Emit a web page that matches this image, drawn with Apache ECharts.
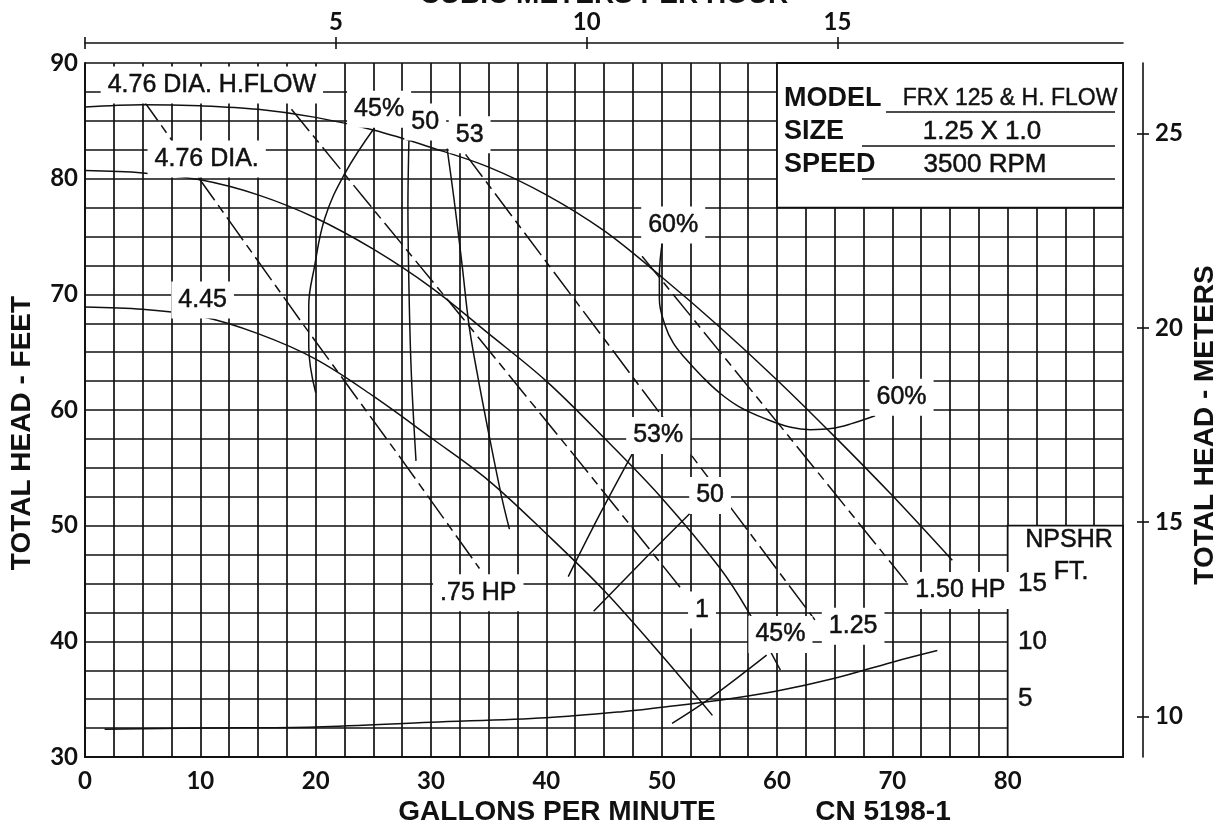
<!DOCTYPE html>
<html>
<head>
<meta charset="utf-8">
<script src="https://cdn.jsdelivr.net/npm/echarts@6/dist/echarts.min.js"></script>
<style>
html,body{margin:0;padding:0;background:#fff;}
#c{width:1225px;height:832px;}
</style>
</head>
<body>
<div id="c"></div>
<script>
// ---------------- DATA ----------------
const gpmTicks = [0, 10, 20, 30, 40, 50, 60, 70, 80];
const headTicks = [30, 40, 50, 60, 70, 80, 90];
const cmhTicks = [5, 10, 15];
const meterTicks = [10, 15, 20, 25];
const npshrTicks = [5, 10, 15];

// head-capacity curves (GPM, feet)
const hflowGpm  = [0, 5, 10, 15, 20, 25, 30, 35, 40, 45, 50, 55, 60, 65, 70, 75.2];
const hflowHead = [86.2, 86.4, 86.3, 86.0, 85.3, 84.2, 82.7, 81.0, 78.6, 75.5, 71.5, 67.2, 62.6, 57.7, 52.6, 47.0];
const dia476Gpm  = [0, 5, 10, 15, 20, 25, 30, 35, 40, 45, 50, 55, 57.5, 60.3];
const dia476Head = [80.7, 80.5, 79.9, 78.6, 76.6, 73.9, 70.6, 66.6, 62.5, 57.6, 52.4, 46.4, 42.6, 37.5];
const dia445Gpm  = [0, 5, 10, 15, 20, 25, 30, 35, 40, 45, 50, 54.4];
const dia445Head = [68.9, 68.7, 68.1, 66.6, 64.4, 61.2, 57.6, 53.9, 49.3, 44.4, 38.8, 33.6];

// NPSHR curve (GPM, feet NPSHR)
const npshrGpm = [1.7, 10, 20, 30, 40, 46.4, 50, 55, 60, 65, 70, 73.9];
const npshrFt  = [2.4, 2.5, 2.6, 3.0, 3.4, 3.9, 4.3, 4.9, 5.7, 6.8, 8.2, 9.2];

// efficiency curves
const eff45aGpm  = [25.1, 22.5, 20.8, 19.9, 19.4, 19.4, 20.0];
const eff45aHead = [84.4, 80.4, 76.6, 72.4, 69.0, 65.5, 61.5];
const eff45bGpm  = [59.1, 54.1, 50.9];
const eff45bHead = [38.8, 35.0, 32.9];
const eff50aGpm  = [28.1, 28.0, 28.1, 28.3, 28.7];
const eff50aHead = [83.9, 77.5, 70.0, 63.0, 55.6];
const eff50bGpm  = [52.6, 48.9, 44.1];
const eff50bHead = [51.2, 47.5, 42.6];
const eff53aGpm  = [31.4, 32.0, 32.7, 33.3, 34.0, 34.9, 36.1, 36.8];
const eff53aHead = [82.6, 78.2, 72.5, 67.3, 63.2, 58.5, 52.6, 49.7];
const eff53bGpm  = [47.5, 44.7, 41.9];
const eff53bHead = [56.3, 51.1, 45.6];
const eff60Gpm  = [50.1, 49.8, 49.8, 50.3, 51.0, 52.1, 53.5, 55.0, 56.7, 59.1, 61.2, 62.9, 64.7, 66.4, 68.5];
const eff60Head = [74.8, 71.6, 69.6, 67.3, 65.8, 64.4, 62.9, 61.5, 60.3, 59.2, 58.5, 58.3, 58.4, 58.8, 59.5];

// horsepower lines
const hp075Gpm  = [4.9, 18.7, 27.4, 34.2];
const hp075Head = [87.0, 67.7, 55.8, 46.3];
const hp100Gpm  = [17.9, 24.3, 32.7, 42.4, 51.9];
const hp100Head = [86.0, 78.2, 68.0, 56.1, 44.3];
const hp125Gpm  = [33.0, 46.4, 63.4];
const hp125Head = [82.1, 64.3, 41.7];
const hp150Gpm  = [48.3, 61.2, 71.4];
const hp150Head = [73.3, 57.5, 44.9];

// curve labels: text, GPM, feet
const labelText = ['4.76 DIA. H.FLOW', '4.76 DIA.', '4.45', '45%', '50', '53', '60%', '60%', '53%', '50', '.75 HP', '1', '1.25', '45%', '1.50 HP'];
const labelGpm  = [11.0, 10.55, 10.2, 25.5, 29.5, 33.35, 51.0, 70.8, 49.7, 54.2, 34.1, 53.5, 66.6, 60.3, 75.9];
const labelHead = [88.1, 81.7, 69.5, 86.0, 84.9, 83.8, 76.0, 61.1, 57.8, 52.6, 44.2, 42.7, 41.3, 40.6, 44.4];

// ---------------- CHART ----------------
const chart = echarts.init(document.getElementById('c'), null, { renderer: 'canvas' });
const INK = '#111';
const FONT = '"Liberation Sans", Arial, sans-serif';
const NUMFONT = 'Lato, "Liberation Sans", sans-serif';
const pairs = (xs, ys) => xs.map((x, i) => [x, ys[i]]);

function curve(xs, ys, extra) {
  return Object.assign({
    type: 'line', data: pairs(xs, ys), symbol: 'none', smooth: 0.35,
    lineStyle: { color: INK, width: 1.5 }, z: 3, silent: true
  }, extra || {});
}
function hpLine(xs, ys) {
  return curve(xs, ys, { smooth: false, lineStyle: { color: INK, width: 1.5, type: [28, 6, 9, 6] } });
}

const gridLine = { show: true, lineStyle: { color: INK, width: 1.7 } };

const option = {
  animation: false,
  backgroundColor: '#fff',
  grid: { left: 85, right: 102, top: 63, bottom: 75, containLabel: false },
  xAxis: [
    {
      type: 'value', min: 0, max: 90, interval: 2.5, position: 'bottom',
      axisLine: { show: true, onZero: false, lineStyle: { color: INK, width: 2 } },
      axisTick: { show: false },
      axisLabel: {
        formatter: v => (gpmTicks.indexOf(v) >= 0 ? String(v) : ''),
        margin: 12, fontSize: 24, fontWeight: 'bold', color: INK, fontFamily: NUMFONT
      },
      splitLine: gridLine
    },
    {
      type: 'value', min: 0, max: 20.69, position: 'top', offset: 20,
      axisLine: { show: true, onZero: false, lineStyle: { color: INK, width: 1.6 } },
      axisTick: { show: true, length: 6, lineStyle: { color: INK, width: 1.6 }, customValues: [0].concat(cmhTicks) },
      axisLabel: { customValues: cmhTicks, margin: 9, fontSize: 24, fontWeight: 'bold', color: INK, fontFamily: NUMFONT },
      splitLine: { show: false }
    },
    {
      type: 'value', min: 0, max: 20.69, position: 'top', offset: 20,
      axisLine: { show: false, onZero: false },
      axisTick: { show: true, inside: true, length: 6, lineStyle: { color: INK, width: 1.6 }, customValues: [0].concat(cmhTicks) },
      axisLabel: { show: false },
      splitLine: { show: false }
    }
  ],
  yAxis: [
    {
      type: 'value', min: 30, max: 90, interval: 2.5, position: 'left',
      axisLine: { show: true, onZero: false, lineStyle: { color: INK, width: 2 } },
      axisTick: { show: false },
      axisLabel: {
        formatter: v => (headTicks.indexOf(v) >= 0 ? String(v) : ''),
        margin: 7, fontSize: 24, fontWeight: 'bold', color: INK, fontFamily: NUMFONT
      },
      splitLine: gridLine
    },
    {
      type: 'value', min: 8.958, max: 26.815, position: 'right', offset: 20,
      axisLine: { show: true, onZero: false, lineStyle: { color: INK, width: 1.6 } },
      axisTick: { show: true, length: 6, lineStyle: { color: INK, width: 1.6 }, customValues: meterTicks },
      axisLabel: { customValues: meterTicks, margin: 12, fontSize: 24, fontWeight: 'bold', color: INK, fontFamily: NUMFONT },
      splitLine: { show: false }
    },
    {
      type: 'value', min: 0, max: 60, position: 'left', offset: -922, z: 30,
      axisLine: { show: false, onZero: false },
      axisTick: { show: false },
      axisLabel: { inside: true, customValues: npshrTicks, margin: 11, fontSize: 26, color: INK, fontFamily: FONT, textBorderColor: INK, textBorderWidth: 0.5 },
      splitLine: { show: false }
    },
    {
      type: 'value', min: 8.958, max: 26.815, position: 'right', offset: 20,
      axisLine: { show: false, onZero: false },
      axisTick: { show: true, inside: true, length: 6, lineStyle: { color: INK, width: 1.6 }, customValues: meterTicks },
      axisLabel: { show: false },
      splitLine: { show: false }
    }
  ],
  series: [
    curve(hflowGpm, hflowHead, {
      markArea: {
        silent: true,
        itemStyle: { color: '#fff', borderColor: INK, borderWidth: 1.8 },
        data: [
          [{ coord: [60, 77.5] }, { coord: [90, 90] }],
          [{ coord: [80, 30] }, { coord: [90, 50] }]
        ]
      }
    }),
    curve(dia476Gpm, dia476Head),
    curve(dia445Gpm, dia445Head),
    curve(npshrGpm, npshrFt, { yAxisIndex: 2 }),
    curve(eff45aGpm, eff45aHead, { smooth: 0.4 }),
    curve(eff45bGpm, eff45bHead),
    curve(eff50aGpm, eff50aHead),
    curve(eff50bGpm, eff50bHead),
    curve(eff53aGpm, eff53aHead),
    curve(eff53bGpm, eff53bHead),
    curve(eff60Gpm, eff60Head, { smooth: 0.4 }),
    hpLine(hp075Gpm, hp075Head),
    hpLine(hp100Gpm, hp100Head),
    hpLine(hp125Gpm, hp125Head),
    hpLine(hp150Gpm, hp150Head),
    {
      type: 'scatter', z: 10, silent: true, symbol: 'circle', symbolSize: 1,
      itemStyle: { color: 'rgba(0,0,0,0)', opacity: 1 },
      data: labelText.map((t, i) => ({ name: t, value: [labelGpm[i], labelHead[i]] })),
      label: {
        show: true, position: 'inside', formatter: '{b}',
        fontFamily: FONT, fontSize: 25, color: INK,
        textBorderColor: INK, textBorderWidth: 0.5,
        backgroundColor: '#fff', padding: [6, 7]
      },
      labelLayout: { hideOverlap: false }
    }
  ],
  graphic: [
    { type: 'text', x: 604, y: -5, style: { text: 'CUBIC METERS PER HOUR', font: 'bold 28px ' + FONT, fill: INK, textAlign: 'center', textVerticalAlign: 'middle' } },
    { type: 'text', x: 557, y: 812, style: { text: 'GALLONS PER MINUTE', font: 'bold 28px ' + FONT, fill: INK, textAlign: 'center', textVerticalAlign: 'middle' } },
    { type: 'text', x: 883, y: 812, style: { text: 'CN 5198-1', font: 'bold 28px ' + FONT, fill: INK, textAlign: 'center', textVerticalAlign: 'middle' } },
    { type: 'text', x: 22, y: 433, rotation: Math.PI / 2, style: { text: 'TOTAL HEAD - FEET', font: 'bold 28px ' + FONT, fill: INK, textAlign: 'center', textVerticalAlign: 'middle' } },
    { type: 'text', x: 1205, y: 425, rotation: Math.PI / 2, style: { text: 'TOTAL HEAD - METERS', font: 'bold 28px ' + FONT, fill: INK, textAlign: 'center', textVerticalAlign: 'middle' } },
    { type: 'text', x: 1069, y: 540, z: 20, style: { text: 'NPSHR', font: '25px ' + FONT, fill: INK, stroke: INK, lineWidth: 0.5, textAlign: 'center', textVerticalAlign: 'middle' } },
    { type: 'text', x: 1071, y: 572, z: 20, style: { text: 'FT.', font: '25px ' + FONT, fill: INK, stroke: INK, lineWidth: 0.5, textAlign: 'center', textVerticalAlign: 'middle' } },
    { type: 'text', x: 784, y: 99, z: 20, style: { text: 'MODEL', font: 'bold 27px ' + FONT, fill: INK, textAlign: 'left', textVerticalAlign: 'middle' } },
    { type: 'text', x: 784, y: 132, z: 20, style: { text: 'SIZE', font: 'bold 27px ' + FONT, fill: INK, textAlign: 'left', textVerticalAlign: 'middle' } },
    { type: 'text', x: 784, y: 165, z: 20, style: { text: 'SPEED', font: 'bold 27px ' + FONT, fill: INK, textAlign: 'left', textVerticalAlign: 'middle' } },
    { type: 'text', x: 1010, y: 99, z: 20, style: { text: 'FRX 125 & H. FLOW', font: '23px ' + FONT, fill: INK, stroke: INK, lineWidth: 0.4, textAlign: 'center', textVerticalAlign: 'middle' } },
    { type: 'text', x: 982, y: 132, z: 20, style: { text: '1.25 X 1.0', font: '26px ' + FONT, fill: INK, stroke: INK, lineWidth: 0.5, textAlign: 'center', textVerticalAlign: 'middle' } },
    { type: 'text', x: 985, y: 165, z: 20, style: { text: '3500 RPM', font: '26px ' + FONT, fill: INK, stroke: INK, lineWidth: 0.5, textAlign: 'center', textVerticalAlign: 'middle' } },
    { type: 'line', z: 20, shape: { x1: 886, y1: 112, x2: 1115, y2: 112 }, style: { stroke: INK, lineWidth: 1.5 } },
    { type: 'line', z: 20, shape: { x1: 862, y1: 146, x2: 1115, y2: 146 }, style: { stroke: INK, lineWidth: 1.5 } },
    { type: 'line', z: 20, shape: { x1: 862, y1: 179, x2: 1115, y2: 179 }, style: { stroke: INK, lineWidth: 1.5 } }
  ]
};

chart.setOption(option);
</script>
</body>
</html>
